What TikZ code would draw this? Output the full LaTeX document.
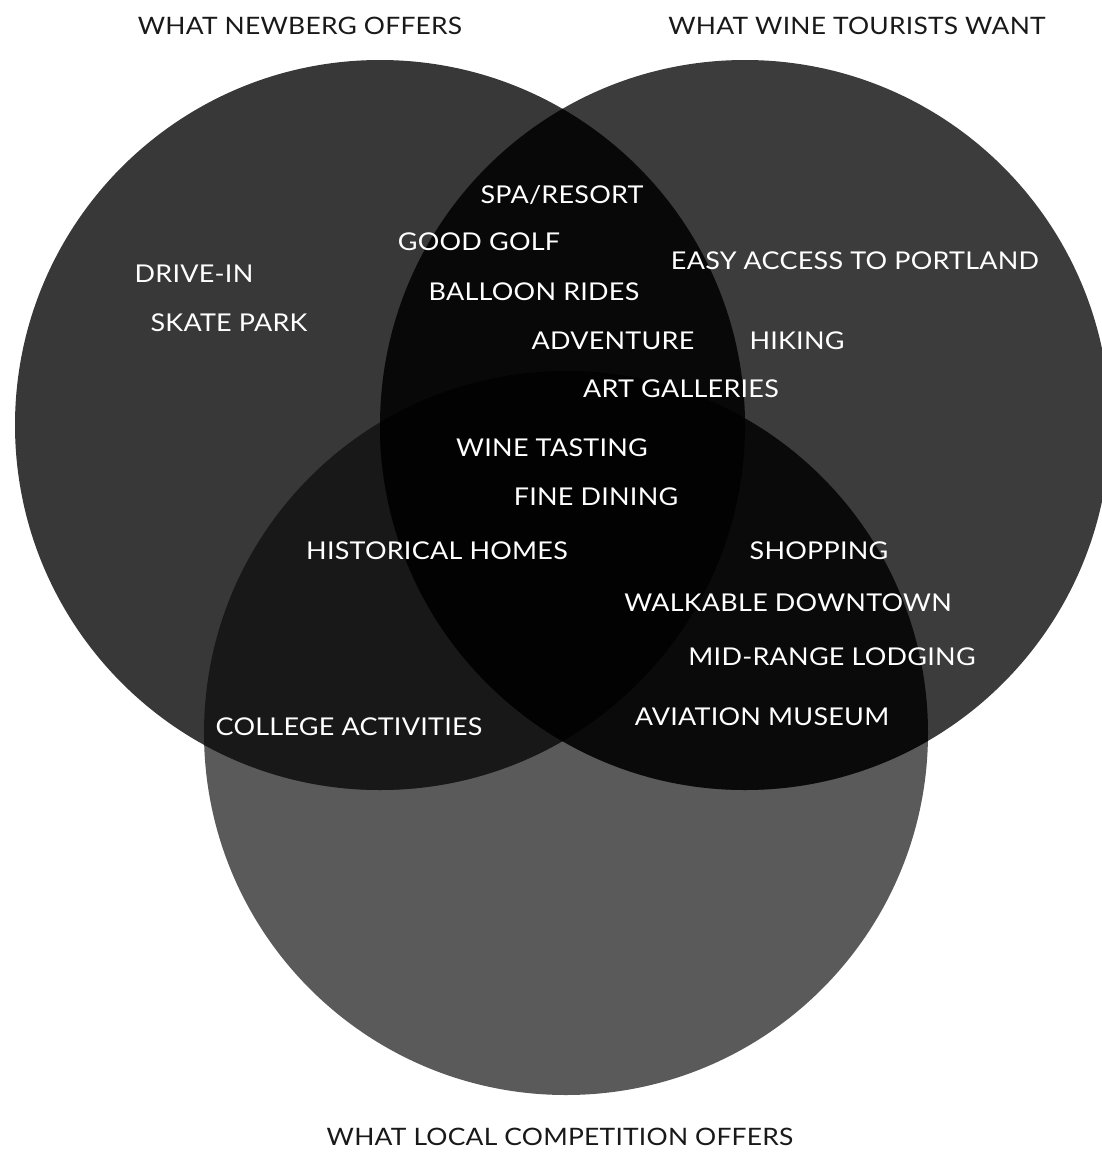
\documentclass[tikz,border=0pt]{standalone}
\usepackage{fontspec}
\setmainfont{Lato}[FakeStretch=1.1,LetterSpace=1]
\definecolor{oneL}{RGB}{56,56,56}
\definecolor{oneR}{RGB}{60,60,60}
\definecolor{oneB}{RGB}{90,90,90}
\definecolor{twoLB}{RGB}{24,24,24}
\definecolor{twoLR}{RGB}{8,8,8}
\definecolor{twoRB}{RGB}{10,10,10}
\definecolor{three}{RGB}{2,2,2}
\begin{document}
\begin{tikzpicture}[x=1pt,y=-1pt,
  lbl/.style={text=white,inner sep=0pt,font=\fontsize{24.5}{24.5}\selectfont},
  ttl/.style={text=black!90,inner sep=0pt,font=\fontsize{24}{24}\selectfont}]
\useasboundingbox (0,0) rectangle (1102,1173);
\fill[white] (0,0) rectangle (1102,1173);
\def\circL{(380,425) circle[radius=365pt]}
\def\circR{(745,425) circle[radius=365pt]}
\def\circB{(566,733) circle[radius=362pt]}
\begin{scope}
  \clip (0,0) rectangle (1102,1173);
  \fill[oneB] \circB;
  \fill[oneL] \circL;
  \fill[oneR] \circR;
  \begin{scope}
    \clip \circL;
    \fill[twoLB] \circB;
    \fill[twoLR] \circR;
  \end{scope}
  \begin{scope}
    \clip \circR;
    \fill[twoRB] \circB;
    \clip \circB;
    \fill[three] \circL;
  \end{scope}
\end{scope}
% titles
\node[ttl] (tN) at (300,26) {WHAT NEWBERG OFFERS};
\node[ttl] (tW) at (857,26) {WHAT WINE TOURISTS WANT};
\node[ttl] (tC) at (560,1137) {WHAT LOCAL COMPETITION OFFERS};
% labels
\node[lbl] (spa) at (562,195) {SPA/RESORT};
\node[lbl] (golf) at (479,242) {GOOD GOLF};
\node[lbl] (easy) at (855,261) {EASY ACCESS TO PORTLAND};
\node[lbl] (drive) at (194,274) {DRIVE-IN};
\node[lbl] (balloon) at (534,292) {BALLOON RIDES};
\node[lbl] (skate) at (229,323) {SKATE PARK};
\node[lbl] (adv) at (613,341) {ADVENTURE};
\node[lbl] (hike) at (797,341) {HIKING};
\node[lbl] (art) at (681,389) {ART GALLERIES};
\node[lbl] (wine) at (552,448) {WINE TASTING};
\node[lbl] (dine) at (596,497) {FINE DINING};
\node[lbl] (hist) at (437,551) {HISTORICAL HOMES};
\node[lbl] (shop) at (819,551) {SHOPPING};
\node[lbl] (walk) at (788,603) {WALKABLE DOWNTOWN};
\node[lbl] (lodge) at (832,657) {MID-RANGE LODGING};
\node[lbl] (coll) at (349,727) {COLLEGE ACTIVITIES};
\node[lbl] (avia) at (762,717) {AVIATION MUSEUM};
\end{tikzpicture}
\end{document}
